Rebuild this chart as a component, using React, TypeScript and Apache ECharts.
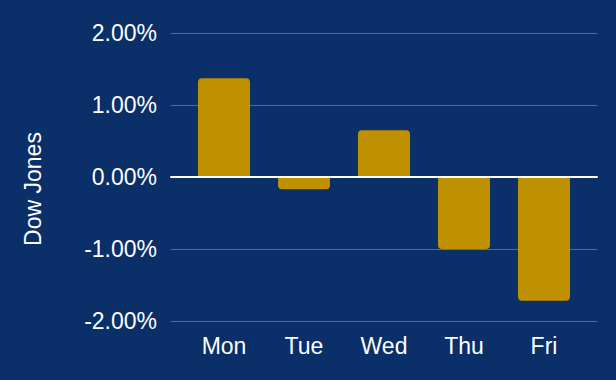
import React, { useEffect, useRef } from "react";
import * as echarts from "echarts";

const days = ["Mon", "Tue", "Wed", "Thu", "Fri"];
const dowChange = [1.37, -0.17, 0.65, -1.0, -1.72];
const yTicks = [-2, -1, 0, 1, 2];
const yTitle = "Dow Jones";

const BG = "#0a2f69";
const BAR = "#bf9000";
const FONT = "'Liberation Sans', Arial, Helvetica, sans-serif";

export default function App() {
  const ref = useRef<HTMLDivElement>(null);
  useEffect(() => {
    document.body.style.margin = "0";
    const chart = echarts.init(ref.current!, null, { renderer: "svg" });
    const yMin = yTicks[0];
    const yMax = yTicks[yTicks.length - 1];
    chart.setOption({
      animation: false,
      backgroundColor: BG,
      textStyle: { fontFamily: FONT },
      grid: [
        { left: 171, right: 19, top: 33, bottom: 59 },
        { left: 184, right: 32, top: 33, bottom: 59 },
      ],
      xAxis: [
        {
          gridIndex: 0,
          type: "value",
          min: 0,
          max: 1,
          z: 10,
          axisLine: { show: true, onZero: true, lineStyle: { color: "#ffffff", width: 2 } },
          axisTick: { show: false },
          axisLabel: { show: false },
          splitLine: { show: false },
        },
        {
          gridIndex: 1,
          type: "category",
          data: days,
          axisLine: { show: false, onZero: false },
          axisTick: { show: false },
          axisLabel: { color: "#ffffff", fontSize: 23, margin: 13, fontFamily: FONT },
          splitLine: { show: false },
        },
      ],
      yAxis: [
        {
          gridIndex: 0,
          type: "value",
          min: yMin,
          max: yMax,
          interval: 1,
          axisLine: { show: false },
          axisTick: { show: false },
          axisLabel: {
            color: "#ffffff",
            fontSize: 23,
            margin: 14,
            fontFamily: FONT,
            formatter: (v: number) => v.toFixed(2) + "%",
          },
          splitLine: { show: true, lineStyle: { color: "rgba(255,255,255,0.3)", width: 1 } },
        },
        {
          gridIndex: 1,
          type: "value",
          min: yMin,
          max: yMax,
          interval: 1,
          show: false,
          splitLine: { show: false },
        },
      ],
      graphic: [
        {
          type: "text",
          x: 33,
          y: 189,
          rotation: Math.PI / 2,
          style: {
            text: yTitle,
            fill: "#ffffff",
            fontSize: 23,
            fontFamily: FONT,
            align: "center",
            verticalAlign: "middle",
          },
        },
      ],
      series: [
        {
          type: "bar",
          xAxisIndex: 1,
          yAxisIndex: 1,
          barWidth: "65%",
          z: 2,
          data: dowChange.map((v) => ({
            value: v,
            itemStyle: {
              color: BAR,
              borderRadius: v >= 0 ? [4, 4, 0, 0] : [0, 0, 4, 4],
            },
          })),
        },
      ],
    });
    return () => chart.dispose();
  }, []);
  return <div ref={ref} style={{ width: 616, height: 380 }} />;
}
